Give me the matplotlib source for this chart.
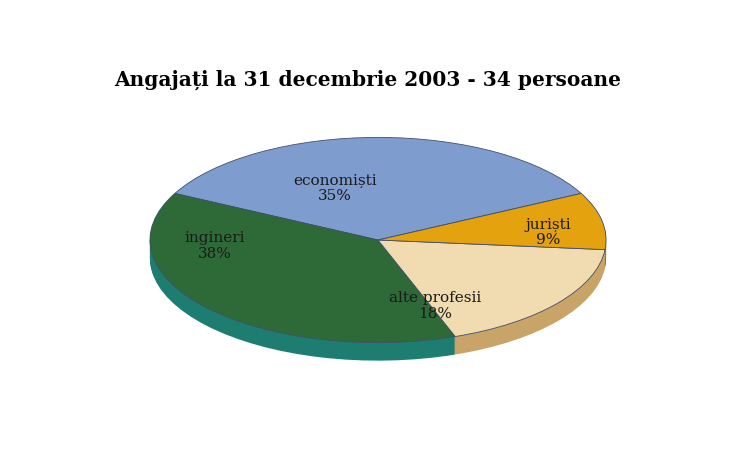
import matplotlib
matplotlib.use("Agg")
import matplotlib.pyplot as plt
import numpy as np

categories = ["economiști", "ingineri", "alte profesii", "juriști"]
values = [35, 38, 18, 9]
labels = ["economiști\n35%", "ingineri\n38%", "alte profesii\n18%", "juriști\n9%"]

top_colors = ["#7f9ccf", "#2e6a38", "#f0dcb0", "#e3a20e"]
side_colors = ["#4d6290", "#1d7d70", "#c8a468", "#a86f0c"]
explode = [0.0, 0.1, 0.0, 0.08]

fig = plt.figure(figsize=(7.35, 4.66), dpi=100)
ax = fig.add_axes([0, 0, 1, 1])
sq = 0.45

cx, cy = 378, (466 - 240) / sq
R = 228
depth = 18
start = 27

for d in range(depth, 0, -1):
    ax.pie(values, radius=R, center=(cx, cy - d / sq), startangle=start,
           colors=side_colors, explode=explode, frame=True,
           wedgeprops=dict(linewidth=0))
wedges, _ = ax.pie(values, radius=R, center=(cx, cy), startangle=start,
                   colors=top_colors, explode=explode, frame=True,
                   wedgeprops=dict(linewidth=0.6, edgecolor="#40506a"))
ax.set_aspect("auto")
ax.set_xlim(0, 735)
ax.set_ylim(0, 466 / sq)
ax.axis("off")

label_pos = [(335, 188), (215, 246), (435, 306), (548, 232)]
for (x, y), t in zip(label_pos, labels):
    ax.text(x, (466 - y) / sq, t, ha="center", va="center", fontsize=11,
            family="DejaVu Serif", color="#1a1a1a", linespacing=1.1)

fig.text(0.5, 1 - 80 / 466, "Angajați la 31 decembrie 2003 - 34 persoane",
         ha="center", va="center", fontsize=14.5, fontweight="bold",
         family="DejaVu Serif")
fig.savefig("out.png", dpi=100)
